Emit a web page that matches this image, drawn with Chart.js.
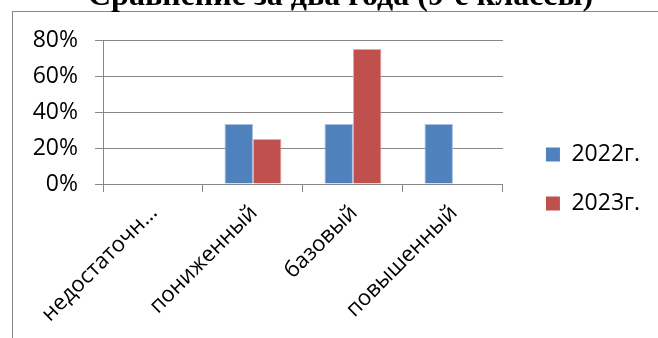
<!DOCTYPE html>
<html>
<head>
<meta charset="utf-8">
<script src="https://cdn.jsdelivr.net/npm/chart.js@4/dist/chart.umd.min.js"></script>
<style>
   html, body { margin: 0; padding: 0; background: #fff; }
   #wrap { position: relative; width: 658px; height: 338px; overflow: hidden; }
   #frame { position: absolute; left: 12px; top: 11px; width: 700px; height: 400px; border: 1px solid #868686; }
   #myChart { position: absolute; left: 0; top: 0; }
</style>
</head>
<body>
<div id="wrap">
   <div id="frame"></div>
   <canvas id="myChart" width="658" height="338"></canvas>
</div>
<script>
   let labels = ['недостаточный', 'пониженный', 'базовый', 'повышенный'];
   let data2022 = [0, 33.3, 33.3, 33.3];
   let data2023 = [0, 25, 75, 0];
   let yTicks = [0, 20, 40, 60, 80];

   const gridColor = '#868686';

   Chart.defaults.font.family = 'Open Sans';
   Chart.defaults.color = '#000';

   //    title starts left of the plot, not at the canvas edge
   const titleShift = {
       id: 'titleShift',
       afterLayout(chart) {
           chart.titleBlock.left = 88;
       }
   };

   const chartData = {
       labels: labels,
       datasets: [{
           label: '2022г.',
           backgroundColor: '#4F81BD',
           borderColor: '#A9C1DF',
           data: data2022,
       }, {
           label: '2023г.',
           backgroundColor: '#C0504D',
           borderColor: '#E2A9A7',
           data: data2023,
       }]
   };

   const config = {
       type: 'bar',
       data: chartData,
       plugins: [titleShift],
       options: {
           responsive: false,
           animation: false,
           layout: {
               padding: { left: 0, right: 8, top: 0, bottom: -20 }
           },
           datasets: {
               bar: {
                   categoryPercentage: 0.57,
                   barPercentage: 1.0,
                   borderWidth: 1,
               }
           },
           plugins: {
               title: {
                   display: true,
                   align: 'start',
                   text: 'Сравнение за два года (9-е классы)',
                   color: '#000',
                   font: { family: 'Liberation Serif', size: 32, weight: 'bold' },
                   padding: { top: -22, bottom: 23.6 },
               },
               legend: {
                   position: 'right',
                   labels: {
                       boxWidth: 14,
                       boxHeight: 14,
                       padding: 26,
                       color: '#000',
                       font: { size: 23 },
                       generateLabels: function (chart) {
                           let items = Chart.defaults.plugins.legend.labels.generateLabels(chart);
                           items.forEach(item => {
                               item.lineWidth = 0;
                               item.strokeStyle = item.fillStyle;
                           });
                           return items;
                       }
                   }
               },
               tooltip: { enabled: false }
           },
           scales: {
               x: {
                   grid: {
                       offset: true,
                       drawOnChartArea: false,
                       color: gridColor,
                       tickLength: 8,
                   },
                   border: { color: gridColor },
                   ticks: {
                       maxRotation: 45,
                       minRotation: 45,
                       padding: 8,
                       labelOffset: 1,
                       font: { size: 22 },
                       callback: function (value) {
                           let t = this.getLabelForValue(value);
                           return t.length > 11 ? t.slice(0, 11) + '…' : t;
                       }
                   },
                   afterFit: function (scale) {
                       scale.height = 174;
                   }
               },
               y: {
                   afterBuildTicks: function (scale) {
                       scale.ticks = yTicks.map(v => ({ value: v }));
                   },
                   min: yTicks[0],
                   max: yTicks[yTicks.length - 1],
                   grid: { color: gridColor, tickLength: 8 },
                   border: { color: gridColor },
                   ticks: {
                       padding: 17,
                       font: { size: 23 },
                       callback: v => v + '%'
                   },
                   afterFit: function (scale) {
                       scale.width = 103;
                   }
               },
               //    hidden spacer between plot and legend
               gap: {
                   position: 'right',
                   display: false,
                   afterFit: function (scale) {
                       scale.width = 17;
                   }
               }
           }
       }
   };

   new Chart(document.getElementById('myChart'), config);
</script>
</body>
</html>
